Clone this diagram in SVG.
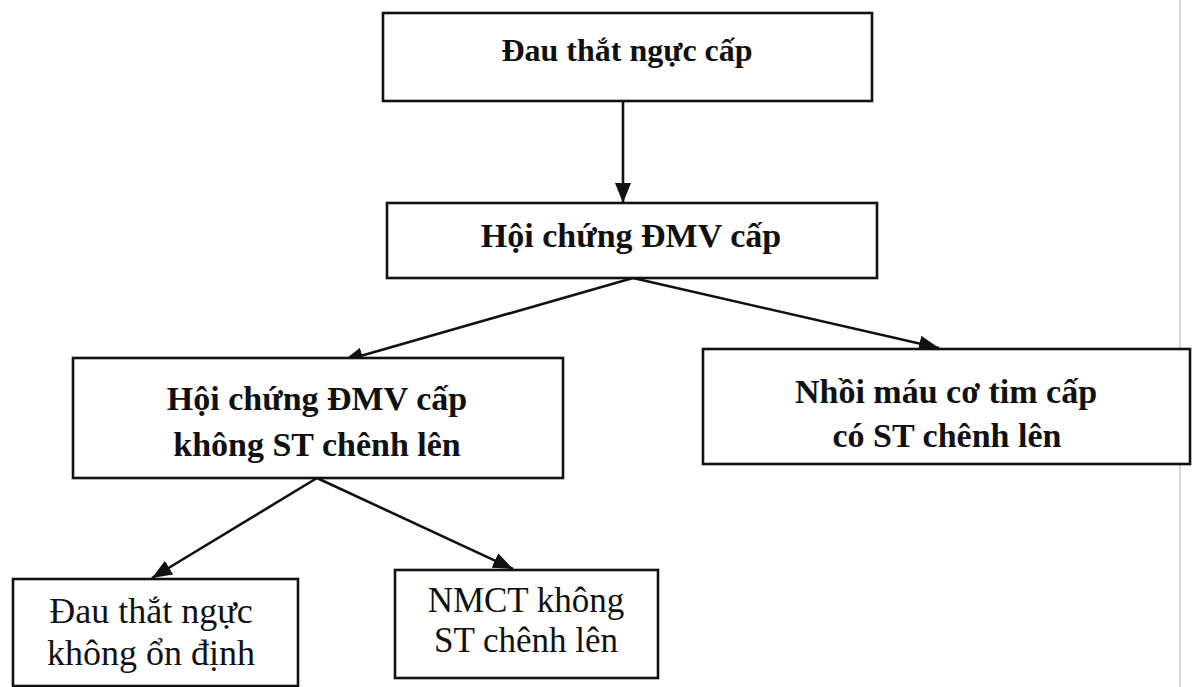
<svg xmlns="http://www.w3.org/2000/svg" width="1193" height="687" viewBox="0 0 1193 687">
<style>
.box{fill:#fff;stroke:#111;stroke-width:2.6}
.b{font-family:"Liberation Serif","Times New Roman",serif;font-weight:bold;font-size:34px;fill:#111;text-anchor:middle}
.r{font-family:"Liberation Serif","Times New Roman",serif;font-size:36px;fill:#111;text-anchor:middle}
.edge{stroke:#111;stroke-width:2.6;fill:none;marker-end:url(#ah)}
</style>
<defs>
<marker id="ah" markerUnits="userSpaceOnUse" markerWidth="22" markerHeight="18" refX="20" refY="8" orient="auto">
<path d="M0,0 L20,8 L0,16 Z" fill="#111"/>
</marker>
</defs>
<rect width="1193" height="687" fill="#fff"/>
<line x1="1180" y1="0" x2="1180" y2="687" stroke="#d8d8d8" stroke-width="2"/>
<g id="connectors">
<line class="edge" x1="623" y1="101" x2="623" y2="203"/>
<line class="edge" x1="633" y1="278" x2="343" y2="361"/>
<line class="edge" x1="633" y1="278" x2="939" y2="348"/>
<line class="edge" x1="317" y1="478" x2="152" y2="578"/>
<line class="edge" x1="317" y1="478" x2="513" y2="569"/>
</g>
<g id="n1">
<rect class="box" x="383" y="13" width="489" height="88"/>
<text class="b" x="627" y="61" style="font-size:32px">Đau thắt ngực cấp</text>
</g>
<g id="n2">
<rect class="box" x="387" y="203" width="490" height="75"/>
<text class="b" x="631" y="247">Hội chứng ĐMV cấp</text>
</g>
<g id="n3">
<rect class="box" x="73" y="358" width="490" height="120"/>
<text class="b" x="317" y="410">Hội chứng ĐMV cấp</text>
<text class="b" x="317" y="456">không ST chênh lên</text>
</g>
<g id="n4">
<rect class="box" x="703" y="349" width="487" height="115"/>
<text class="b" x="946" y="403">Nhồi máu cơ tim cấp</text>
<text class="b" x="947" y="447">có ST chênh lên</text>
</g>
<g id="n5">
<rect class="box" x="13" y="579" width="285" height="107"/>
<text class="r" x="151" y="623">Đau thắt ngực</text>
<text class="r" x="151" y="665">không ổn định</text>
</g>
<g id="n6">
<rect class="box" x="395" y="570" width="263" height="108"/>
<text class="r" x="526" y="612" style="font-size:35px">NMCT không</text>
<text class="r" x="526" y="652" style="font-size:35px">ST chênh lên</text>
</g>
</svg>
